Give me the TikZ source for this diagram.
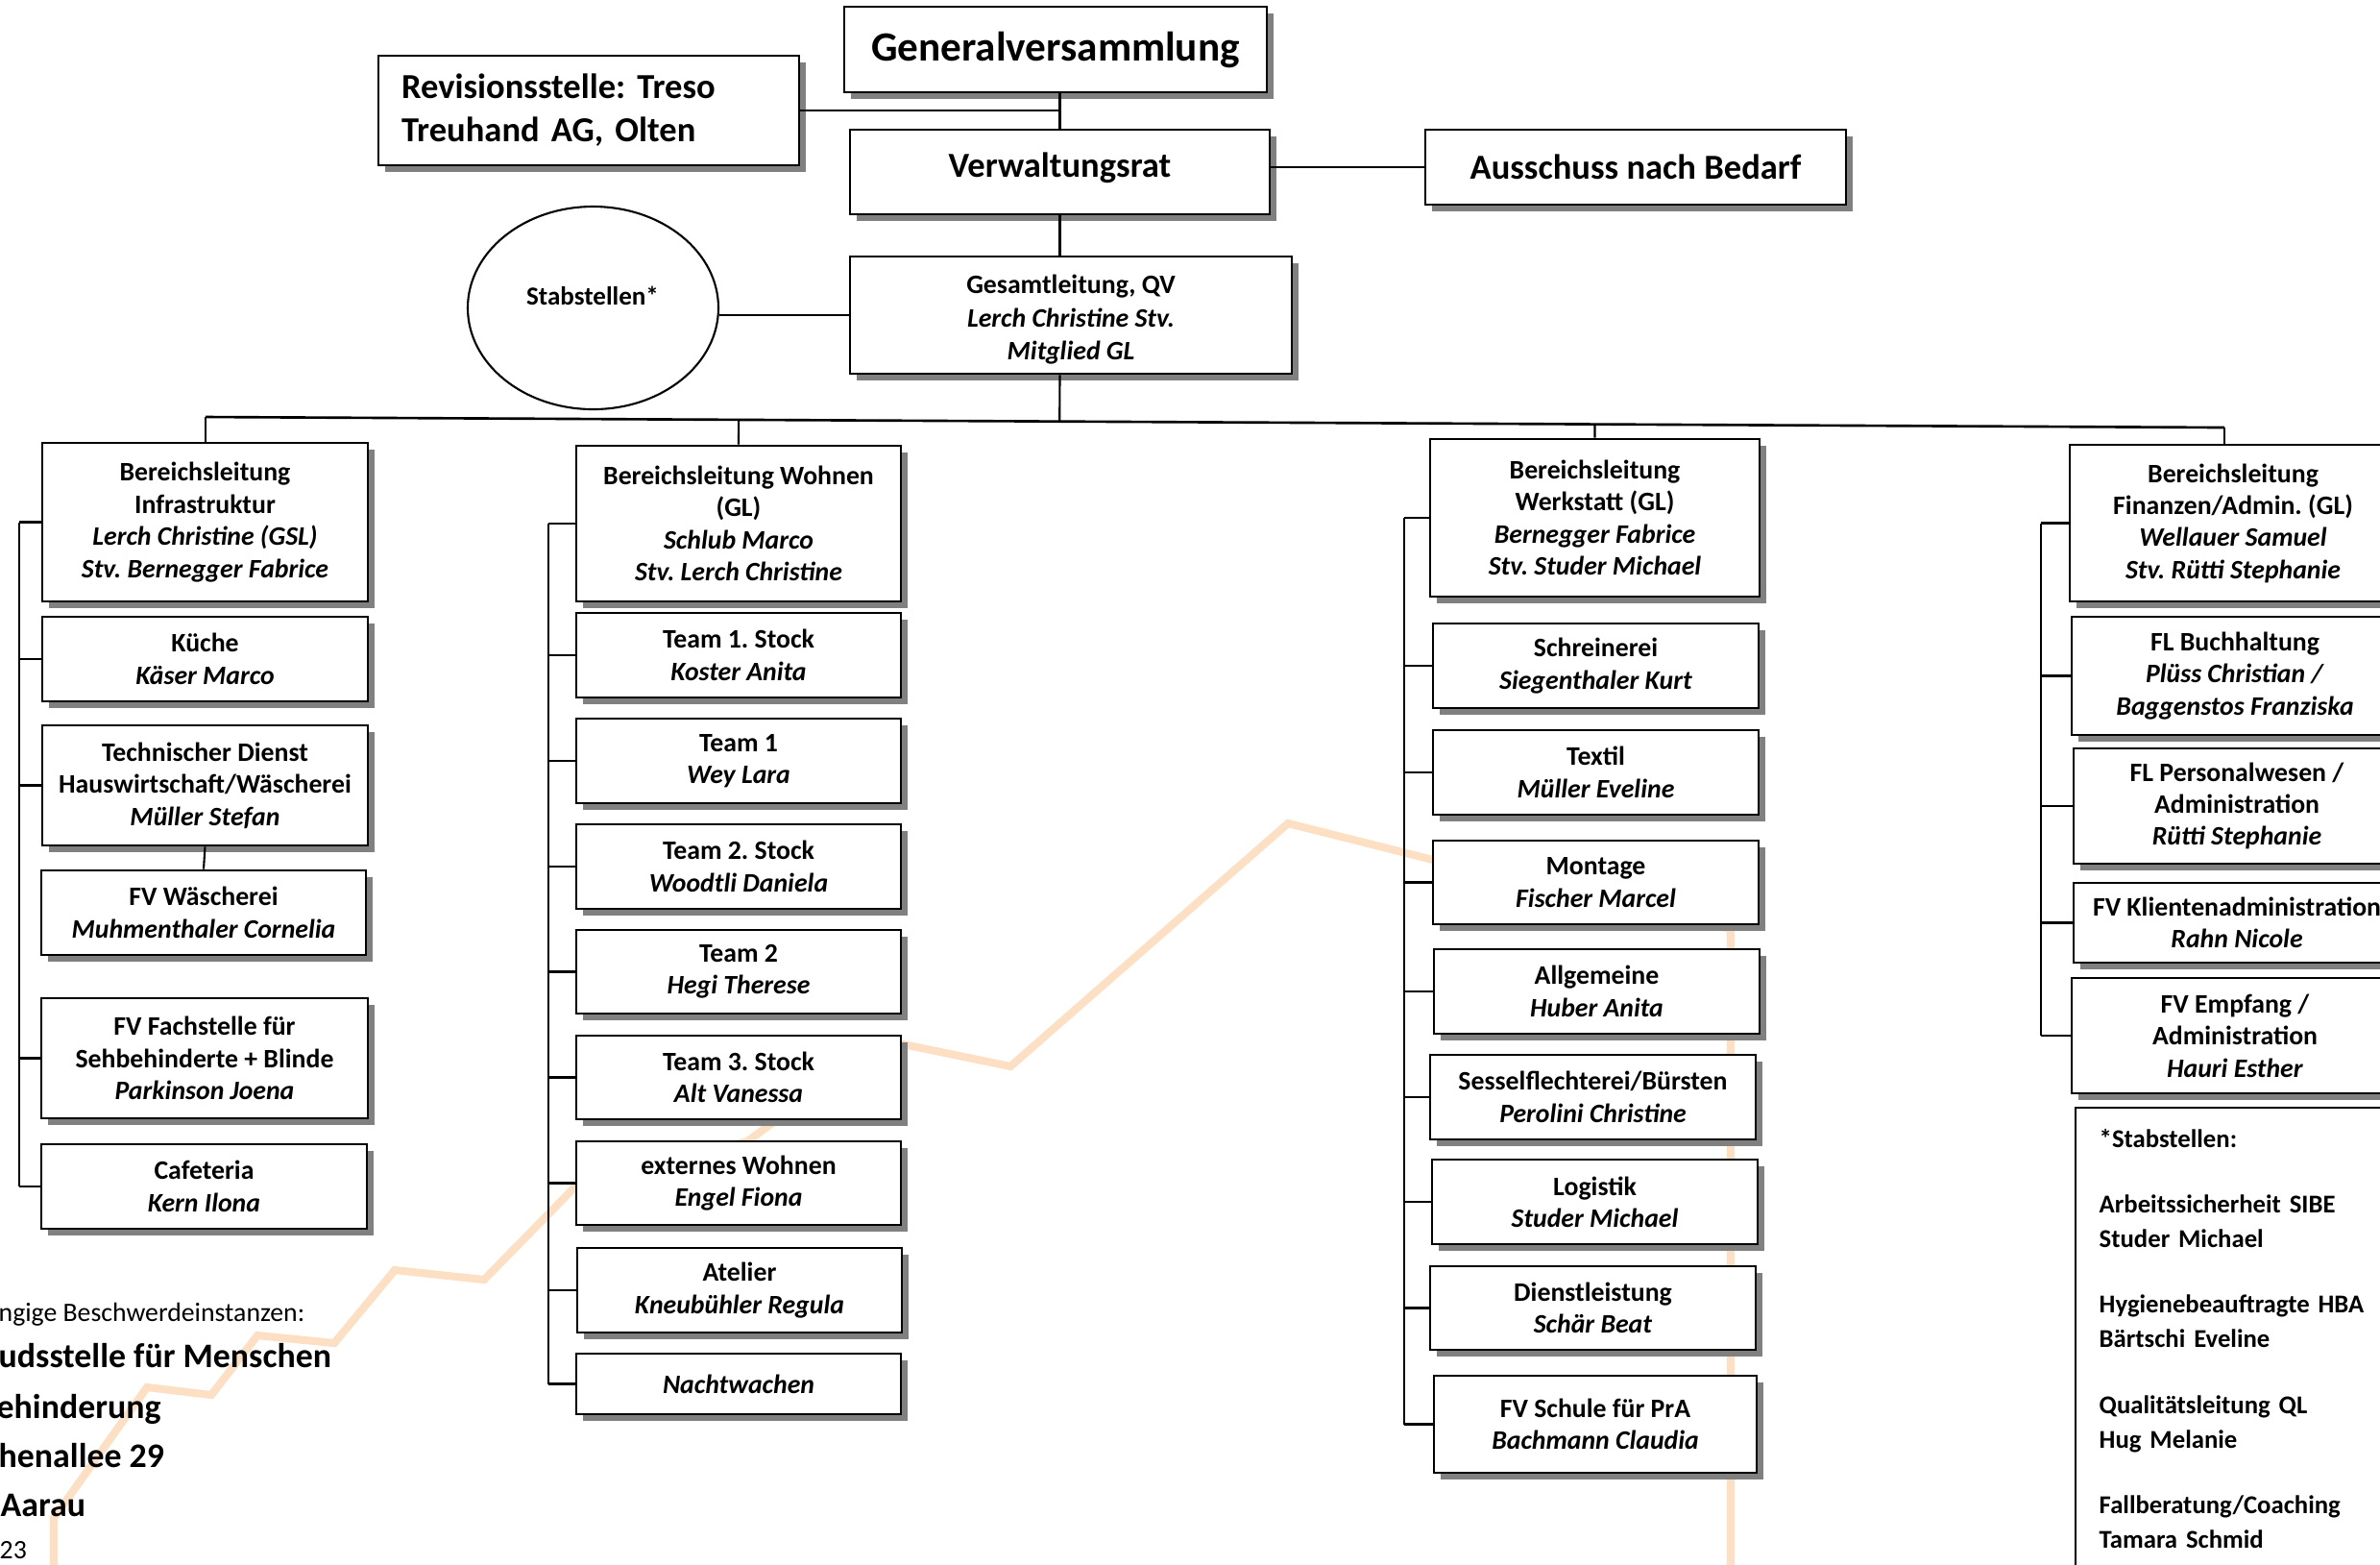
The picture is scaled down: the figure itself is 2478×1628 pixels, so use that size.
\documentclass[tikz,border=0pt]{standalone}
\usepackage{fontspec}
\setmainfont{Carlito}
\usetikzlibrary{shapes.geometric,shadows,calc}
\definecolor{orng}{RGB}{253,224,196}
\definecolor{shd}{RGB}{128,128,128}
\newcommand\mkbox[7][]{\node[obox,#1,minimum width={((#5)-(#3))*0.1mm},minimum height={((#6)-(#4))*0.1mm}] (#2) at ({((#3)+(#5))/2},{((#4)+(#6))/2}) {#7};}
\tikzset{
  obox/.style={draw=black,line width=0.8pt,fill=white,inner sep=0pt,align=center,
    font=\fontsize{7.9}{9.5}\selectfont\bfseries,
    drop shadow={shadow xshift=0.65mm,shadow yshift=-0.65mm,fill=shd,opacity=1}},
  conn/.style={line width=0.6pt,black},
  busline/.style={line width=0.75pt,black},
  orline/.style={draw=orng,line width=2.3pt,line join=miter},
  bigtxt/.style={font=\fontsize{10.4}{12.8}\selectfont\bfseries},
}
\begin{document}
\frenchspacing
\begin{tikzpicture}[x=0.1mm,y=-0.1mm]
\useasboundingbox (0,0) rectangle (2478,1628);
\clip (0,0) rectangle (2478,1628);
\fill[white] (0,0) rectangle (2478,1628);
% background orange zigzag
\draw[orline] (56,1660) -- (56,1580) -- (153,1444) -- (220,1452) -- (268,1390) -- (348,1398) -- (411,1322) -- (504,1332) -- (600,1234) -- (778,1188) -- (800,1172) -- (921,1083) -- (1052,1110) -- (1341,857) -- (1492,895) -- (1802,967) -- (1802,1660);
% bottom-left text
\node[anchor=base west,inner sep=0pt,font=\fontsize{7.9}{9.5}\selectfont] (bl1) at (-2,1375) {ngige Beschwerdeinstanzen:};
\node[anchor=base west,inner sep=0pt,font=\fontsize{10.2}{12}\selectfont\bfseries] (bl2) at (-2,1423) {udsstelle für Menschen};
\node[anchor=base west,inner sep=0pt,font=\fontsize{10.2}{12}\selectfont\bfseries] (bl3) at (-4,1476) {ehinderung};
\node[anchor=base west,inner sep=0pt,font=\fontsize{10.2}{12}\selectfont\bfseries] (bl4) at (-2,1527) {henallee 29};
\node[anchor=base west,inner sep=0pt,font=\fontsize{10.2}{12}\selectfont\bfseries] (bl5) at (0,1578) {Aarau};
\node[anchor=base west,inner sep=0pt,font=\fontsize{7.9}{9.5}\selectfont] (bl6) at (-1,1622) {23};
% top
\mkbox[font=\fontsize{12.3}{14}\selectfont\bfseries]{gv}{879}{7}{1319}{96}{Generalversammlung}
\mkbox[bigtxt,text width=39mm,align=left,inner xsep=2.4mm]{rev}{394}{58}{832}{172}{Revisionsstelle: Treso\\Treuhand AG, Olten}
\mkbox[bigtxt]{vr}{885}{135}{1322}{223}{\raisebox{1.4mm}{Verwaltungsrat}}
\mkbox[bigtxt]{aus}{1484}{135}{1922}{213}{Ausschuss nach Bedarf}
\mkbox[font=\fontsize{7.9}{9.9}\selectfont\bfseries]{gl}{885}{267}{1345}{389}{\rule{0pt}{2.9mm}Gesamtleitung, QV\\\textit{Lerch Christine Stv.}\\\textit{Mitglied GL}}
\node[draw,ellipse,line width=0.6pt,fill=white,minimum width=26.1mm,minimum height=21.1mm,inner sep=0pt] (ell) at (617.5,320.5) {};
\node[font=\fontsize{7.7}{9}\selectfont\bfseries,inner sep=0pt] (ellt) at (617,308) {Stabstellen*};
\draw[conn] (vr.north |- gv.south) -- (vr.north);
\draw[conn] (rev.east) -- (rev.east -| vr.north);
\draw[conn] (aus.west) -- (aus.west -| vr.east);
\draw[conn] (vr.south) -- (vr.south |- gl.north);
\draw[conn] (gl.west) -- (gl.west -| ell.east);
% column 1
\mkbox{inf}{44}{461}{383}{626}{Bereichsleitung\\Infrastruktur\\\textit{Lerch Christine (GSL)}\\\textit{Stv. Bernegger Fabrice}}
\mkbox{kue}{44}{642}{383}{730}{Küche\\\textit{Käser Marco}}
\mkbox{td}{44}{755}{383}{880}{Technischer Dienst\\Hauswirtschaft/Wäscherei\\\textit{Müller Stefan}}
\mkbox{fvw}{43}{906}{381}{994}{FV Wäscherei\\\textit{Muhmenthaler Cornelia}}
\mkbox{fvf}{43}{1039}{383}{1164}{FV Fachstelle für\\Sehbehinderte + Blinde\\\textit{Parkinson Joena}}
\mkbox{caf}{43}{1191}{382}{1279}{Cafeteria\\\textit{Kern Ilona}}
% column 2
\mkbox{woh}{600}{464}{938}{626}{Bereichsleitung Wohnen\\(GL)\\\textit{Schlub Marco}\\\textit{Stv. Lerch Christine}}
\mkbox{tas}{600}{638}{938}{726}{Team 1. Stock\\\textit{Koster Anita}}
\mkbox{ta}{600}{748}{938}{836}{Team 1\\\textit{Wey Lara}}
\mkbox{tbs}{600}{858}{938}{946}{Team 2. Stock\\\textit{Woodtli Daniela}}
\mkbox{tb}{600}{968}{938}{1055}{Team 2\\\textit{Hegi Therese}}
\mkbox{tcs}{600}{1078}{938}{1165}{Team 3. Stock\\\textit{Alt Vanessa}}
\mkbox{ext}{600}{1188}{938}{1275}{externes Wohnen\\\textit{Engel Fiona}}
\mkbox{ate}{601}{1299}{939}{1387}{Atelier\\\textit{Kneubühler Regula}}
\mkbox{nac}{600}{1409}{938}{1472}{\textit{Nachtwachen}}
% column 3
\mkbox{wer}{1489}{457}{1832}{621}{Bereichsleitung\\Werkstatt (GL)\\\textit{Bernegger Fabrice}\\\textit{Stv. Studer Michael}}
\mkbox{sch}{1492}{649}{1831}{737}{Schreinerei\\\textit{Siegenthaler Kurt}}
\mkbox{tex}{1492}{760}{1831}{848}{Textil\\\textit{Müller Eveline}}
\mkbox{mon}{1492}{875}{1831}{962}{Montage\\\textit{Fischer Marcel}}
\mkbox{alg}{1493}{988}{1832}{1076}{Allgemeine\\\textit{Huber Anita}}
\mkbox{ses}{1489}{1098}{1828}{1186}{Sesselflechterei/Bürsten\\\textit{Perolini Christine}}
\mkbox{log}{1491}{1207}{1830}{1295}{Logistik\\\textit{Studer Michael}}
\mkbox{die}{1489}{1318}{1828}{1405}{Dienstleistung\\\textit{Schär Beat}}
\mkbox{fvs}{1493}{1432}{1829}{1533}{FV Schule für PrA\\\textit{Bachmann Claudia}}
% column 4
\mkbox{fin}{2155}{463}{2495}{626}{Bereichsleitung\\Finanzen/Admin. (GL)\\\textit{Wellauer Samuel}\\\textit{Stv. Rütti Stephanie}}
\mkbox{buc}{2157}{642}{2497}{765}{FL Buchhaltung\\\textit{Plüss Christian /}\\\textit{Baggenstos Franziska}}
\mkbox{per}{2159}{779}{2499}{899}{FL Personalwesen /\\Administration\\\textit{Rütti Stephanie}}
\mkbox{kli}{2159}{919}{2499}{1002}{FV Klientenadministration\\\textit{Rahn Nicole}}
\mkbox{emp}{2157}{1018}{2497}{1138}{FV Empfang /\\Administration\\\textit{Hauri Esther}}
\mkbox{stb}{2161}{1153}{2501}{1720}{}
\node[anchor=base west,inner sep=0pt,text width=30mm,align=left,font=\fontsize{7.6}{10.2}\selectfont\bfseries] (stbt) at (2185,1194) {*Stabstellen:\\[9.3pt]Arbeitssicherheit SIBE\\Studer Michael\\[9.3pt]Hygienebeauftragte HBA\\Bärtschi Eveline\\[9.3pt]Qualitätsleitung QL\\Hug Melanie\\[9.3pt]Fallberatung/Coaching\\Tamara Schmid};
% bus
\coordinate (busL) at (214,434);
\coordinate (busR) at (2316,445);
\draw[busline] (busL) -- (busR);
\draw[conn] (busL) -- (busL |- inf.north);
\draw[conn] (busR) -- (busR |- fin.north);
\draw[conn] (woh.north) -- ($(busL)!(woh.north)!(busR)$);
\draw[conn] (wer.north) -- ($(busL)!(wer.north)!(busR)$);
\draw[conn] (gl.south -| vr.south) -- ($(busL)!(gl.south -| vr.south)!(busR)$);
% brackets
\coordinate (ba) at (20,0);
\coordinate (bb) at (571,0);
\coordinate (bc) at (1462,0);
\coordinate (bd) at (2125,0);
\draw[conn] (ba |- inf.west) -- (ba |- caf.west);
\foreach \n in {inf,kue,td,fvf,caf} \draw[conn] (\n.west) -- (\n.west -| ba);
\draw[conn] (td.south) -- (fvw.north);
\draw[conn] (bb |- woh.west) -- (bb |- nac.west);
\foreach \n in {woh,tas,ta,tbs,tb,tcs,ext,ate,nac} \draw[conn] (\n.west) -- (\n.west -| bb);
\draw[conn] (bc |- wer.west) -- (bc |- fvs.west);
\foreach \n in {wer,sch,tex,mon,alg,ses,log,die,fvs} \draw[conn] (\n.west) -- (\n.west -| bc);
\draw[conn] (bd |- fin.west) -- (bd |- emp.west);
\foreach \n in {fin,buc,per,kli,emp} \draw[conn] (\n.west) -- (\n.west -| bd);
\end{tikzpicture}
\end{document}
